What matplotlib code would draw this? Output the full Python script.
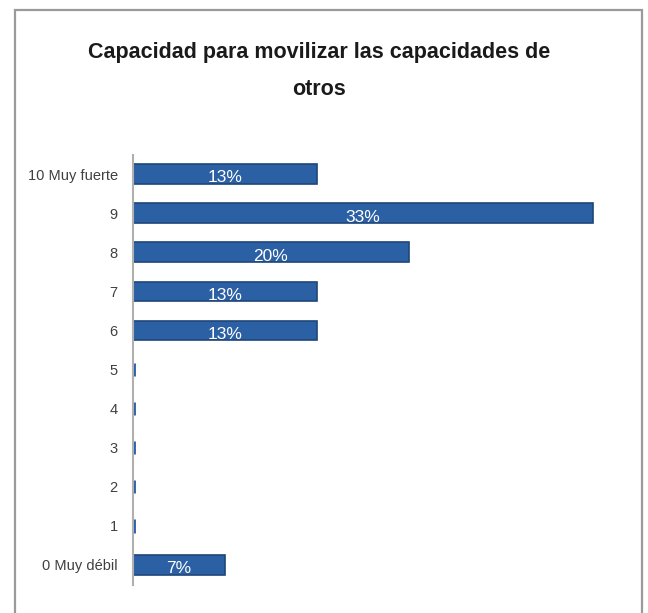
import matplotlib
matplotlib.use("Agg")
import matplotlib.pyplot as plt
from matplotlib.patches import Rectangle

categories = ["0 Muy débil", "1", "2", "3", "4", "5", "6", "7", "8", "9", "10 Muy fuerte"]
values = [6.67, 0, 0, 0, 0, 0, 13.33, 13.33, 20.0, 33.33, 13.33]
title = "Capacidad para movilizar las capacidades de\notros"

FONT = ["Liberation Sans", "DejaVu Sans"]

fig = plt.figure(figsize=(6.48, 6.13), dpi=100)
fig.patch.set_facecolor("white")

# outer frame
W, H = 648, 613
frame = Rectangle((15 / W, -0.05), (642 - 15) / W, 1.05 - 10 / H,
                  transform=fig.transFigure, fill=False, edgecolor="#9a9a9a",
                  linewidth=1.6)
fig.patches.append(frame)

ax = fig.add_axes([133 / W, 1 - 584.5 / H, 483 / W, 430 / H])
y = list(range(len(categories)))
bar_color = "#2C60A4"
bars = ax.barh(y, values, height=0.5, color=bar_color, edgecolor="#1E4679",
               linewidth=1.2)
for b, v in zip(bars, values):
    if v == 0:
        b.set_linewidth(3.5)
        b.set_edgecolor(bar_color)
        b.set_height(0.34)
        b.set_y(b.get_y() + 0.08)
    else:
        ax.text(v / 2, b.get_y() + b.get_height() / 2 - 0.1, f"{round(v)}%",
                ha="center", va="center", color="white", fontsize=12.5,
                family=FONT)

ax.set_xlim(0, 35)
ax.set_ylim(-0.5, 10.5)
ax.set_yticks(y)
ax.set_yticklabels(categories, family=FONT, fontsize=10.5, color="#404040")
ax.tick_params(axis="y", length=0, pad=11)
ax.set_xticks([])
for s in ["top", "right", "bottom"]:
    ax.spines[s].set_visible(False)
ax.spines["left"].set_color("#b0b0b0")
ax.spines["left"].set_linewidth(1.5)

fig.text(0.493, 1 - 71 / H, title, ha="center", va="center", fontsize=15.5,
         fontweight="bold", family=FONT, color="#1a1a1a", linespacing=2.05)

fig.savefig("out.png", dpi=100)
